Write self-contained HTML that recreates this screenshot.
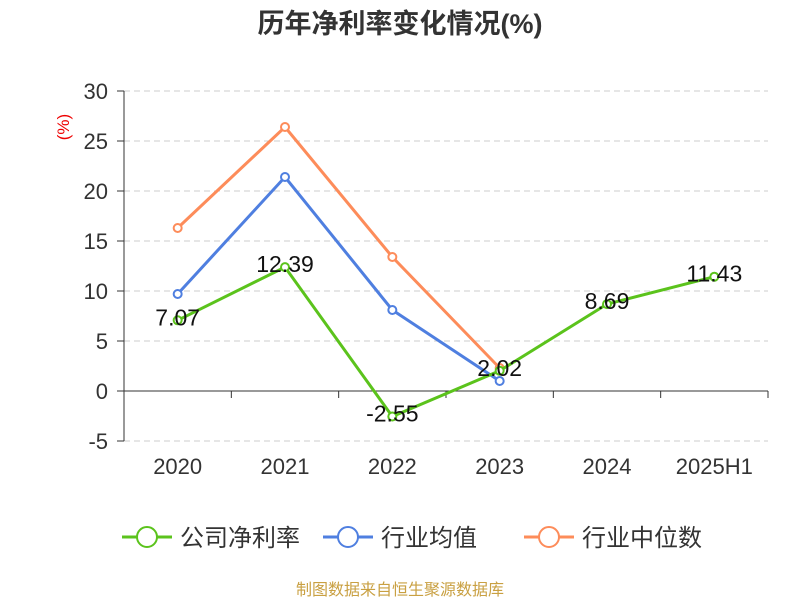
<!DOCTYPE html>
<html><head><meta charset="utf-8"><style>
body{margin:0;background:#fff;font-family:"Liberation Sans","Noto Sans CJK SC",sans-serif}
</style></head><body>
<svg id="c" width="800" height="600" xmlns="http://www.w3.org/2000/svg" style="font-family:'Liberation Sans','Noto Sans CJK SC',sans-serif">
<text x="400" y="33" text-anchor="middle" font-size="27" font-weight="bold" fill="#333">历年净利率变化情况(%)</text>
<text x="69" y="127" text-anchor="middle" font-size="17" fill="#e00" transform="rotate(-90 69 127)">(%)</text>
<g id="grid"></g><g id="axes"></g><g id="series"></g>
<g id="legend"></g>
<text x="400" y="595" text-anchor="middle" font-size="16" fill="#c9a042">制图数据来自恒生聚源数据库</text>
</svg>
<script>
const categories=["2020","2021","2022","2023","2024","2025H1"];
const company=[7.07,12.39,-2.55,2.02,8.69,11.43];
const industryAvg=[9.7,21.4,8.1,1.0,null,null];
const industryMedian=[16.3,26.4,13.4,2.3,null,null];
const yTicks=[-5,0,5,10,15,20,25,30];
const seriesNames=["公司净利率","行业均值","行业中位数"];
const NS="http://www.w3.org/2000/svg";
const L=124,R=768,T=91,B=441,yMin=-5,yMax=30;
const band=(R-L)/categories.length;
const x=i=>L+band*(i+0.5);
const y=v=>B-(v-yMin)/(yMax-yMin)*(B-T);
function el(p,t,a){const e=document.createElementNS(NS,t);for(const k in a)e.setAttribute(k,a[k]);document.getElementById(p).appendChild(e);return e;}
yTicks.forEach(v=>{
  if(v!==0){const g=el("grid","line",{x1:L,x2:R,y1:y(v),y2:y(v),stroke:"#ccc","stroke-dasharray":"6,4"});
  
  }
  const tk=el("axes","line",{x1:L-7,x2:L,y1:y(v),y2:y(v),stroke:"#333"});
  
  
  const t=el("axes","text",{x:L-16,y:y(v)+8,"text-anchor":"end","font-size":"22",fill:"#333"});
  t.textContent=v;
  
  
});
const ya=el("axes","line",{x1:L,x2:L,y1:T,y2:B,stroke:"#333"});


const xa=el("axes","line",{x1:L,x2:R,y1:y(0),y2:y(0),stroke:"#333"});


for(let i=0;i<=categories.length;i++){
  const tk=el("axes","line",{x1:L+band*i,x2:L+band*i,y1:y(0),y2:y(0)+7,stroke:"#333"});
  
  
}
categories.forEach((c,i)=>{
  const t=el("axes","text",{x:x(i),y:474,"text-anchor":"middle","font-size":"22",fill:"#333"});
  t.textContent=c;
  
  
});
function draw(data,color,name,labels){
  const pts=data.map((v,i)=>v==null?null:[x(i),y(v)]).filter(p=>p);
  const p=el("series","polyline",{points:pts.map(q=>q.join(",")).join(" "),fill:"none",stroke:color,"stroke-width":"3"});
  
  
  data.forEach((v,i)=>{
    if(v==null)return;
    const c=el("series","circle",{cx:x(i),cy:y(v),r:4,fill:"#fff",stroke:color,"stroke-width":"2"});
    
    
  });
  if(labels){
    data.forEach((v,i)=>{
      const t=el("series","text",{x:x(i),y:y(v)+5,"text-anchor":"middle","font-size":"23",fill:"#111"});
      t.textContent=v.toFixed(2);
      
      
    });
  }
}
draw(industryMedian,"#fd8c5a","industry-median",false);
draw(industryAvg,"#4f7fe0","industry-average",false);
draw(company,"#5bc31c","company",true);
const lc=["#5bc31c","#4f7fe0","#fd8c5a"],lx=[122,323,524];
seriesNames.forEach((n,i)=>{
  const g=el("legend","g",{});
  
  
  const a=document.createElementNS(NS,"line");
  a.setAttribute("x1",lx[i]);a.setAttribute("x2",lx[i]+50);a.setAttribute("y1",537);a.setAttribute("y2",537);a.setAttribute("stroke",lc[i]);a.setAttribute("stroke-width","3");g.appendChild(a);
  const c=document.createElementNS(NS,"circle");
  c.setAttribute("cx",lx[i]+25);c.setAttribute("cy",537);c.setAttribute("r",10);c.setAttribute("fill","#fff");c.setAttribute("stroke",lc[i]);c.setAttribute("stroke-width","2");g.appendChild(c);
  const t=document.createElementNS(NS,"text");
  t.setAttribute("x",lx[i]+58);t.setAttribute("y",546);t.setAttribute("font-size","24");t.setAttribute("fill","#333");t.textContent=n;g.appendChild(t);
});
</script>
</body></html>
